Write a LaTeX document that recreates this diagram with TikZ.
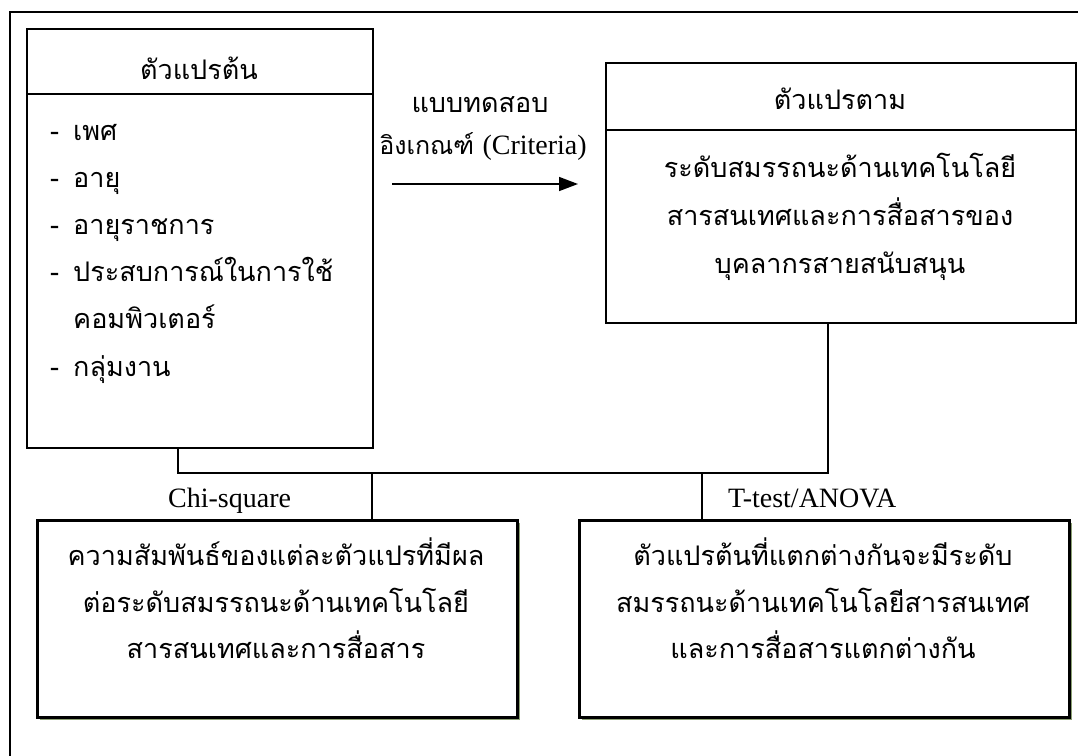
\documentclass[tikz,border=0pt]{standalone}
\usepackage{fontspec}
\setmainfont{Liberation Serif}
\newfontfamily\thai[Script=Thai]{Loma}
\usetikzlibrary{arrows.meta}
\definecolor{shadowc}{RGB}{140,160,115}
\tikzset{
  th/.style={font=\thai\fontsize{27}{31}\selectfont, inner sep=0pt, anchor=base},
  thw/.style={th, anchor=base west},
  la/.style={font=\fontsize{28}{32}\selectfont, inner sep=0pt, anchor=base west},
  boxa/.style={draw, line width=2.2pt, fill=white, inner sep=0pt, anchor=north west},
  boxb/.style={draw, line width=3pt, fill=white, inner sep=0pt, anchor=north west},
  conn/.style={line width=2pt},
}
\begin{document}
\begin{tikzpicture}[x=1pt,y=-1pt]
\useasboundingbox (0,0) rectangle (1078,755);
\clip (0,0) rectangle (1078,755);
\fill[white] (0,0) rectangle (1078,755);
% outer frame
\draw[line width=2.2pt] (10,770) -- (10,12) -- (1090,12);

% boxes
\node[boxa, minimum width=346pt, minimum height=419pt] (lbox) at (26,28) {};
\draw[line width=2.2pt] (lbox.west |- 0,94) -- (lbox.east |- 0,94);
\node[boxa, minimum width=470pt, minimum height=260pt] (rbox) at (605,62) {};
\draw[line width=2.2pt] (rbox.west |- 0,130) -- (rbox.east |- 0,130);

\fill[shadowc] (40,523) rectangle (520,720);
\node[boxb, minimum width=480pt, minimum height=197pt] (blbox) at (36,519) {};
\fill[shadowc] (582,523) rectangle (1072,720);
\node[boxb, minimum width=490pt, minimum height=197pt] (brbox) at (578,519) {};

% connectors
\coordinate (hl) at (178,473);
\coordinate (hr) at (828,473);
\coordinate (j1) at (372,473);
\coordinate (j2) at (702,473);
\draw[conn] (lbox.south -| hl) -- (hl) -- (hr) -- (rbox.south -| hr);
\draw[conn] (j1) -- (blbox.north -| j1);
\draw[conn] (j2) -- (brbox.north -| j2);

\coordinate (a1) at (392,184);
\coordinate (a2) at (578,184);
\draw[line width=1.5pt, -{Triangle[length=19pt,width=14pt]}] (a1) -- (a2);

% texts
\node[th] (lh) at (199,79) {ตัวแปรต้น};
\node[thw] (d1) at (50,140) {-};
\node[thw] (d2) at (50,187) {-};
\node[thw] (d3) at (50,234) {-};
\node[thw] (d4) at (50,281) {-};
\node[thw] (d6) at (50,376) {-};
\node[thw] (i1) at (73,140) {เพศ};
\node[thw] (i2) at (73,187) {อายุ};
\node[thw] (i3) at (73,234) {อายุราชการ};
\node[thw] (i4) at (73,281) {ประสบการณ์ในการใช้};
\node[thw] (i5) at (73,328) {คอมพิวเตอร์};
\node[thw] (i6) at (73,376) {กลุ่มงาน};

\node[th] (rh) at (840,109) {ตัวแปรตาม};
\node[th] (r1) at (840,177) {ระดับสมรรถนะด้านเทคโนโลยี};
\node[th] (r2) at (840,225) {สารสนเทศและการสื่อสารของ};
\node[th] (r3) at (840,273) {บุคลากรสายสนับสนุน};

\node[th] (t1) at (480,112) {แบบทดสอบ};
\node[th] (t2) at (483,154) {\fontsize{25}{29}\selectfont อิงเกณฑ์ {\normalfont\fontsize{28}{32}\selectfont (Criteria)}};

\node[la] (chi) at (168,507) {Chi-square};
\node[la] (tt) at (728,507) {T-test/ANOVA};

\node[th] (b1) at (276,565) {ความสัมพันธ์ของแต่ละตัวแปรที่มีผล};
\node[th] (b2) at (276,612) {ต่อระดับสมรรถนะด้านเทคโนโลยี};
\node[th] (b3) at (276,658) {สารสนเทศและการสื่อสาร};

\node[th] (c1) at (823,565) {ตัวแปรต้นที่แตกต่างกันจะมีระดับ};
\node[th] (c2) at (823,612) {สมรรถนะด้านเทคโนโลยีสารสนเทศ};
\node[th] (c3) at (823,658) {และการสื่อสารแตกต่างกัน};
\end{tikzpicture}
\end{document}
